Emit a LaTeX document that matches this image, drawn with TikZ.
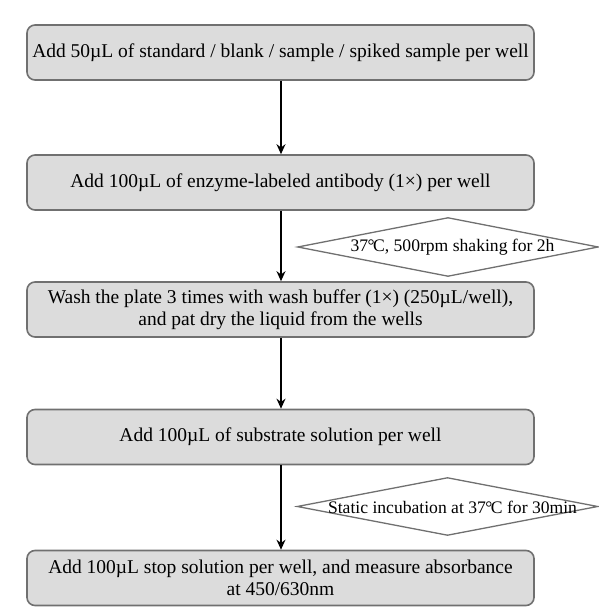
\documentclass[tikz,border=0pt]{standalone}
\usepackage{fontspec}
\setmainfont{Liberation Serif}
\usetikzlibrary{arrows.meta}
\definecolor{boxfill}{HTML}{DCDCDC}
\definecolor{boxline}{HTML}{707070}
\tikzset{
  stepbox/.style={draw=boxline, line width=1.6pt, fill=boxfill, rounded corners=8pt,
    minimum width=507pt, minimum height=55pt, inner sep=0pt, align=center,
    font=\fontsize{19.5}{22.5}\selectfont},
  condtext/.style={minimum width=300pt, minimum height=58pt, inner sep=0pt},
  condlabel/.style={inner sep=0pt, font=\fontsize{17.6}{20}\selectfont},
  condline/.style={draw=boxline, line width=1.3pt, fill=white},
  flow/.style={-{Stealth[length=10pt,width=9pt]}, line width=1.6pt, black}
}
\begin{document}
\begin{tikzpicture}[x=1pt,y=1pt]
\useasboundingbox (0,0) rectangle (599,608);
\node[stepbox] (b1) at (280.5,555.5) {Add 50µL of standard / blank / sample / spiked sample per well};
\node[stepbox] (b2) at (280.5,425.5) {Add 100µL of enzyme-labeled antibody (1×) per well};
\node[stepbox] (b3) at (280.5,298.5) {Wash the plate 3 times with wash buffer (1×) (250µL/well),\\and pat dry the liquid from the wells};
\node[stepbox] (b4) at (280.5,171) {Add 100µL of substrate solution per well};
\node[stepbox] (b5) at (280.5,30) {Add 100µL stop solution per well, and measure absorbance\\at 450/630nm};
\node[condtext] (d1) at (448,361) {};
\draw[condline] (d1.west) -- (d1.north) -- (d1.east) -- (d1.south) -- cycle;
\node[condlabel] (t1) at (452.5,361) {37\kern-0.5pt°\kern-1.5pt C, 500rpm shaking for 2h};
\node[condtext, minimum height=57pt] (d2) at (447.5,101.5) {};
\draw[condline] (d2.west) -- (d2.north) -- (d2.east) -- (d2.south) -- cycle;
\node[condlabel] (t2) at (452.5,101) {Static incubation at 37\kern-0.5pt°\kern-1.5pt C for 30min};
\draw[flow] (b1.south -| 281,0) -- (b2.north -| 281,0);
\draw[flow] (b2.south -| 281,0) -- (b3.north -| 281,0);
\draw[flow] (b3.south -| 281,0) -- (b4.north -| 281,0);
\draw[flow] (b4.south -| 281,0) -- (b5.north -| 281,0);
\end{tikzpicture}
\end{document}
